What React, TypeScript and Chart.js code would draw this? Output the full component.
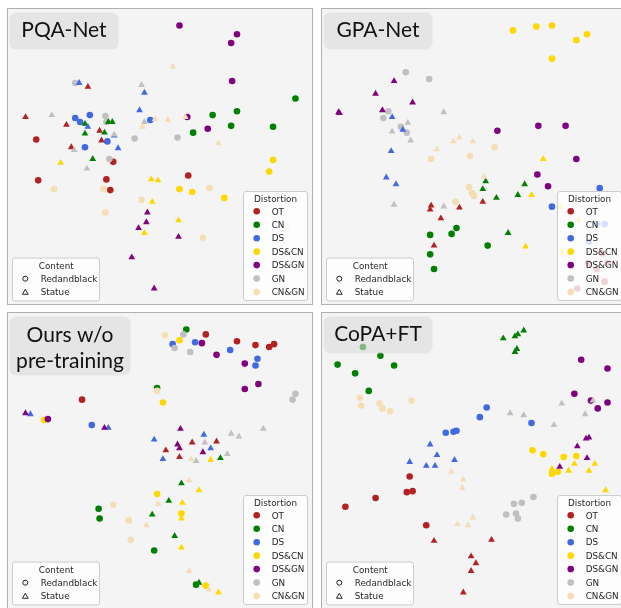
import React, { useEffect, useRef } from "react";
import { Chart, registerables } from "chart.js";

Chart.register(...registerables);

type P = [number, number];

const DISTORTIONS = ["OT", "CN", "DS", "DS&CN", "DS&GN", "GN", "CN&GN"];
const COLORS = ["#b22222", "#008000", "#4169e1", "#ffd700", "#800080", "#c0c0c0", "#f5deb3"];
const CONTENTS = ["Redandblack", "Statue"];

// ---- PQA-Net (2D embedding, R = Redandblack, S = Statue) ----
const PQA_OT_R: P[] = [[26, 131], [28, 173], [98, 172], [102, 183], [105, 154], [182, 168]];
const PQA_OT_S: P[] = [[79, 77], [15, 108], [57, 116], [91, 122], [93, 132], [62, 139]];
const PQA_CN_R: P[] = [[292, 89], [232, 102], [207, 106], [226, 117], [269, 118], [187, 124]];
const PQA_CN_S: P[] = [[100, 113], [104, 113], [76, 115], [76, 125], [96, 124], [84, 151]];
const PQA_DS_R: P[] = [[66, 109], [71, 113], [81, 106], [76, 139], [99, 133], [143, 111]];
const PQA_DS_S: P[] = [[70, 73], [137, 83], [132, 101], [79, 118], [110, 140], [106, 127]];
const PQA_DSCN_R: P[] = [[269, 152], [265, 164], [173, 182], [186, 185], [219, 191]];
const PQA_DSCN_S: P[] = [[51, 155], [144, 172], [151, 173], [145, 195], [172, 214], [137, 227]];
const PQA_DSGN_R: P[] = [[173, 14], [232, 23], [226, 32], [227, 71], [202, 120], [181, 108]];
const PQA_DSGN_S: P[] = [[140, 206], [139, 216], [131, 222], [172, 231], [124, 252], [147, 284]];
const PQA_GN_R: P[] = [[66, 73], [97, 107], [98, 113], [127, 130], [171, 129], [101, 151]];
const PQA_GN_S: P[] = [[42, 106], [134, 75], [137, 113], [65, 142], [78, 161], [106, 126]];
const PQA_CNGN_R: P[] = [[44, 182], [95, 182], [134, 193], [97, 206], [204, 181], [197, 232], [284, 221]];
const PQA_CNGN_S: P[] = [[166, 56], [148, 110], [161, 111], [179, 108], [135, 118], [213, 135]];

// ---- GPA-Net ----
const GPA_OT_R: P[] = [[285, 248], [270, 258], [279, 264], [290, 258], [287, 277], [259, 284]];
const GPA_OT_S: P[] = [[109, 199], [108, 203], [138, 201], [119, 212], [162, 195], [112, 240]];
const GPA_CN_R: P[] = [[135, 222], [130, 228], [108, 229], [108, 249], [112, 264], [167, 240]];
const GPA_CN_S: P[] = [[165, 174], [162, 182], [176, 191], [198, 188], [205, 177], [188, 227]];
const GPA_DS_R: P[] = [[233, 200], [282, 181], [279, 218], [287, 218], [271, 236]];
const GPA_DS_S: P[] = [[69, 108], [80, 121], [68, 143], [63, 170], [73, 177]];
const GPA_DSCN_R: P[] = [[193, 19], [217, 15], [233, 14], [258, 29], [269, 23], [233, 48]];
const GPA_DSCN_S: P[] = [[224, 151], [212, 188], [206, 241], [241, 200], [260, 214], [243, 247]];
const GPA_DSGN_R: P[] = [[177, 122], [219, 117], [247, 117], [258, 151], [218, 167], [229, 179]];
const GPA_DSGN_S: P[] = [[71, 71], [52, 84], [90, 93], [15, 104], [14, 103], [59, 101]];
const GPA_GN_R: P[] = [[83, 62], [107, 69], [65, 102], [60, 109], [78, 118], [84, 124]];
const GPA_GN_S: P[] = [[122, 103], [85, 114], [69, 123], [88, 132], [71, 198], [122, 200]];
const GPA_CNGN_R: P[] = [[109, 151], [149, 148], [174, 139], [148, 180], [151, 186], [153, 189], [134, 195]];
const GPA_CNGN_S: P[] = [[115, 141], [132, 133], [138, 129], [152, 133], [163, 169]];

// ---- Ours w/o pre-training ----
const OWO_OT_R: P[] = [[200, 19], [232, 26], [251, 30], [265, 32], [270, 29], [73, 86]];
const OWO_OT_S: P[] = [[186, 130], [211, 129], [159, 138], [173, 145]];
const OWO_CN_R: P[] = [[180, 14], [150, 74], [90, 198], [91, 208], [147, 241], [190, 276]];
const OWO_CN_S: P[] = [[215, 146], [175, 172], [162, 190], [145, 204], [168, 226], [193, 274]];
const OWO_DS_R: P[] = [[166, 29], [189, 27], [225, 35], [253, 44], [251, 51], [83, 112]];
const OWO_DS_S: P[] = [[20, 101], [100, 115], [147, 127], [198, 122], [205, 136], [156, 147]];
const OWO_DSCN_R: P[] = [[173, 25], [156, 89], [34, 107], [150, 183], [175, 203], [200, 277]];
const OWO_DSCN_S: P[] = [[205, 148], [193, 179], [176, 192], [175, 208], [175, 238], [213, 284]];
const OWO_DSGN_R: P[] = [[196, 28], [211, 40], [240, 49], [254, 70], [240, 75], [38, 106]];
const OWO_DSGN_S: P[] = [[15, 100], [96, 115], [174, 116], [171, 132], [173, 136], [197, 140]];
const OWO_GN_R: P[] = [[177, 19], [168, 33], [184, 37], [292, 80], [289, 86]];
const OWO_GN_S: P[] = [[226, 121], [234, 124], [259, 116], [199, 130], [222, 142], [190, 149]];
const OWO_CNGN_R: P[] = [[158, 20], [150, 77], [105, 194], [121, 210], [123, 230]];
const OWO_CNGN_S: P[] = [[185, 147], [183, 169], [151, 193], [139, 215], [183, 262], [203, 281]];

// ---- CoPA+FT ----
const COPA_OT_R: P[] = [[87, 165], [84, 181], [90, 180], [52, 187], [21, 196], [104, 215]];
const COPA_OT_S: P[] = [[112, 231], [171, 230], [150, 247], [155, 254], [150, 262], [142, 284]];
const COPA_CN_R: P[] = [[39, 32], [57, 41], [13, 50], [31, 59], [71, 51], [45, 77]];
const COPA_CN_S: P[] = [[183, 23], [195, 21], [198, 19], [204, 15], [195, 37], [197, 34]];
const COPA_DS_R: P[] = [[166, 94], [159, 104], [124, 120], [132, 119], [135, 118], [212, 110]];
const COPA_DS_S: P[] = [[108, 132], [115, 143], [87, 150], [104, 154], [113, 154], [133, 148]];
const COPA_DSCN_R: P[] = [[213, 138], [224, 142], [245, 145], [258, 144], [233, 162], [239, 160]];
const COPA_DSCN_S: P[] = [[233, 157], [250, 159], [256, 152], [271, 159], [277, 152], [288, 179]];
const COPA_DSGN_R: P[] = [[263, 45], [290, 54], [256, 80], [273, 87], [280, 95], [290, 89]];
const COPA_DSGN_S: P[] = [[268, 126], [271, 125], [259, 134], [269, 146], [241, 155]];
const COPA_GN_R: P[] = [[194, 193], [202, 192], [214, 186], [186, 204], [196, 203], [198, 208]];
const COPA_GN_S: P[] = [[190, 100], [204, 102], [243, 90], [235, 112], [267, 101], [275, 87]];
const COPA_CNGN_R: P[] = [[36, 84], [37, 92], [56, 90], [59, 95], [67, 98], [89, 87]];
const COPA_CNGN_S: P[] = [[130, 160], [142, 168], [141, 177], [152, 207], [136, 214], [147, 215]];

const PQA_SERIES: P[][][] = [
  [PQA_OT_R, PQA_OT_S], [PQA_CN_R, PQA_CN_S], [PQA_DS_R, PQA_DS_S], [PQA_DSCN_R, PQA_DSCN_S],
  [PQA_DSGN_R, PQA_DSGN_S], [PQA_GN_R, PQA_GN_S], [PQA_CNGN_R, PQA_CNGN_S],
];
const GPA_SERIES: P[][][] = [
  [GPA_OT_R, GPA_OT_S], [GPA_CN_R, GPA_CN_S], [GPA_DS_R, GPA_DS_S], [GPA_DSCN_R, GPA_DSCN_S],
  [GPA_DSGN_R, GPA_DSGN_S], [GPA_GN_R, GPA_GN_S], [GPA_CNGN_R, GPA_CNGN_S],
];
const OWO_SERIES: P[][][] = [
  [OWO_OT_R, OWO_OT_S], [OWO_CN_R, OWO_CN_S], [OWO_DS_R, OWO_DS_S], [OWO_DSCN_R, OWO_DSCN_S],
  [OWO_DSGN_R, OWO_DSGN_S], [OWO_GN_R, OWO_GN_S], [OWO_CNGN_R, OWO_CNGN_S],
];
const COPA_SERIES: P[][][] = [
  [COPA_OT_R, COPA_OT_S], [COPA_CN_R, COPA_CN_S], [COPA_DS_R, COPA_DS_S], [COPA_DSCN_R, COPA_DSCN_S],
  [COPA_DSGN_R, COPA_DSGN_S], [COPA_GN_R, COPA_GN_S], [COPA_CNGN_R, COPA_CNGN_S],
];

const W = 306;
const H = 297;
const LEGEND_FONT = "8.8px 'DejaVu Sans'";
const TEXT_COLOR = "#262626";

function roundRect(ctx: CanvasRenderingContext2D, x: number, y: number, w: number, h: number, r: number) {
  ctx.beginPath();
  ctx.moveTo(x + r, y);
  ctx.lineTo(x + w - r, y);
  ctx.arcTo(x + w, y, x + w, y + r, r);
  ctx.lineTo(x + w, y + h - r);
  ctx.arcTo(x + w, y + h, x + w - r, y + h, r);
  ctx.lineTo(x + r, y + h);
  ctx.arcTo(x, y + h, x, y + h - r, r);
  ctx.lineTo(x, y + r);
  ctx.arcTo(x, y, x + r, y, r);
  ctx.closePath();
}

function triPath(ctx: CanvasRenderingContext2D, x: number, y: number, r: number) {
  ctx.beginPath();
  for (let k = 0; k < 3; k++) {
    const a = (k * 2 * Math.PI) / 3;
    const px = x + Math.sin(a) * r;
    const py = y - Math.cos(a) * r;
    if (k === 0) ctx.moveTo(px, py);
    else ctx.lineTo(px, py);
  }
  ctx.closePath();
}

function makePlugin(title: string[]) {
  return {
    id: "panelDecor",
    beforeDraw(chart: any) {
      const ctx = chart.ctx as CanvasRenderingContext2D;
      ctx.save();
      ctx.fillStyle = "#f4f4f4";
      ctx.fillRect(0, 0, chart.width, chart.height);
      ctx.restore();
    },
    afterDraw(chart: any) {
      const ctx = chart.ctx as CanvasRenderingContext2D;
      ctx.save();
      // title box
      const two = title.length > 1;
      const bw = two ? 121 : 109;
      const bh = two ? 59 : 37;
      ctx.fillStyle = "rgba(218,218,218,0.6)";
      roundRect(ctx, 2.5, 4.5, bw, bh, 7);
      ctx.fill();
      ctx.fillStyle = "#111111";
      ctx.font = "21px Lato";
      ctx.textAlign = "center";
      ctx.textBaseline = "alphabetic";
      if (two) {
        ctx.fillText(title[0], 2.5 + bw / 2, 29.5);
        ctx.fillText(title[1], 2.5 + bw / 2, 55.5);
      } else {
        ctx.fillText(title[0], 2.5 + bw / 2, 28.5);
      }

      // Distortion legend
      ctx.fillStyle = "rgba(255,255,255,0.8)";
      ctx.strokeStyle = "#cccccc";
      ctx.lineWidth = 1;
      roundRect(ctx, 236.5, 183.5, 64, 109, 2.5);
      ctx.fill();
      ctx.stroke();
      ctx.fillStyle = TEXT_COLOR;
      ctx.font = LEGEND_FONT;
      ctx.textAlign = "center";
      ctx.fillText("Distortion", 268.5, 193.5);
      ctx.textAlign = "left";
      DISTORTIONS.forEach((d, i) => {
        const cy = 203.3 + 13.45 * i;
        ctx.fillStyle = COLORS[i];
        ctx.beginPath();
        ctx.arc(249.7, cy, 3.3, 0, Math.PI * 2);
        ctx.fill();
        ctx.fillStyle = TEXT_COLOR;
        ctx.fillText(d, 264.7, cy + 3.2);
      });

      // Content legend
      ctx.fillStyle = "rgba(255,255,255,0.8)";
      ctx.strokeStyle = "#cccccc";
      roundRect(ctx, 5.5, 250, 87, 43, 2.5);
      ctx.fill();
      ctx.stroke();
      ctx.fillStyle = TEXT_COLOR;
      ctx.textAlign = "center";
      ctx.fillText("Content", 49.3, 260.9);
      ctx.textAlign = "left";
      ctx.strokeStyle = "#222222";
      ctx.lineWidth = 1;
      CONTENTS.forEach((c, i) => {
        const cy = 270.7 + 13.3 * i;
        if (i === 0) {
          ctx.beginPath();
          ctx.arc(18.3, cy, 2.5, 0, Math.PI * 2);
          ctx.stroke();
        } else {
          triPath(ctx, 18.3, cy + 0.6, 3.3);
          ctx.stroke();
        }
        ctx.fillStyle = TEXT_COLOR;
        ctx.fillText(c, 33.7, cy + 3.2);
      });

      // frame
      ctx.strokeStyle = "#b0b0b0";
      ctx.lineWidth = 1;
      ctx.strokeRect(0.5, 0.5, chart.width - 1, chart.height - 1);
      ctx.restore();
    },
  };
}

function Panel({ left, top, title, series }: { left: number; top: number; title: string[]; series: P[][][] }) {
  const ref = useRef<HTMLCanvasElement>(null);
  useEffect(() => {
    if (!ref.current) return;
    const datasets: any[] = [];
    for (let c = 0; c < 2; c++) {
      for (let d = 0; d < DISTORTIONS.length; d++) {
        const idx = c * DISTORTIONS.length + d;
        datasets.push({
          label: `${DISTORTIONS[d]} / ${CONTENTS[c]}`,
          data: series[d][c].map(([x, y]) => ({ x, y })),
          backgroundColor: COLORS[d],
          borderColor: COLORS[d],
          borderWidth: 0,
          pointStyle: c === 0 ? "circle" : "triangle",
          pointRadius: c === 0 ? 3.3 : 3.9,
          pointHoverRadius: c === 0 ? 3.3 : 3.9,
          order: 20 - idx,
        });
      }
    }
    const chart = new Chart(ref.current, {
      type: "scatter",
      data: { datasets },
      options: {
        animation: false,
        responsive: false,
        maintainAspectRatio: false,
        devicePixelRatio: 1,
        events: [],
        layout: { padding: 0 },
        scales: {
          x: { type: "linear", display: false, min: 0, max: W },
          y: { type: "linear", display: false, min: 0, max: H, reverse: true },
        },
        plugins: { legend: { display: false }, tooltip: { enabled: false }, title: { display: false } },
      },
      plugins: [makePlugin(title)],
    } as any);
    return () => chart.destroy();
  }, []);
  return (
    <canvas
      ref={ref}
      width={W}
      height={H}
      style={{ position: "absolute", left, top, width: W, height: H }}
    />
  );
}

export default function App() {
  return (
    <div
      style={{
        position: "fixed",
        left: 0,
        top: 0,
        width: 621,
        height: 608,
        overflow: "hidden",
        background: "#ffffff",
      }}
    >
      <Panel left={7} top={8} title={["PQA-Net"]} series={PQA_SERIES} />
      <Panel left={321} top={8} title={["GPA-Net"]} series={GPA_SERIES} />
      <Panel left={7} top={312} title={["Ours w/o", "pre-training"]} series={OWO_SERIES} />
      <Panel left={321} top={312} title={["CoPA+FT"]} series={COPA_SERIES} />
    </div>
  );
}
